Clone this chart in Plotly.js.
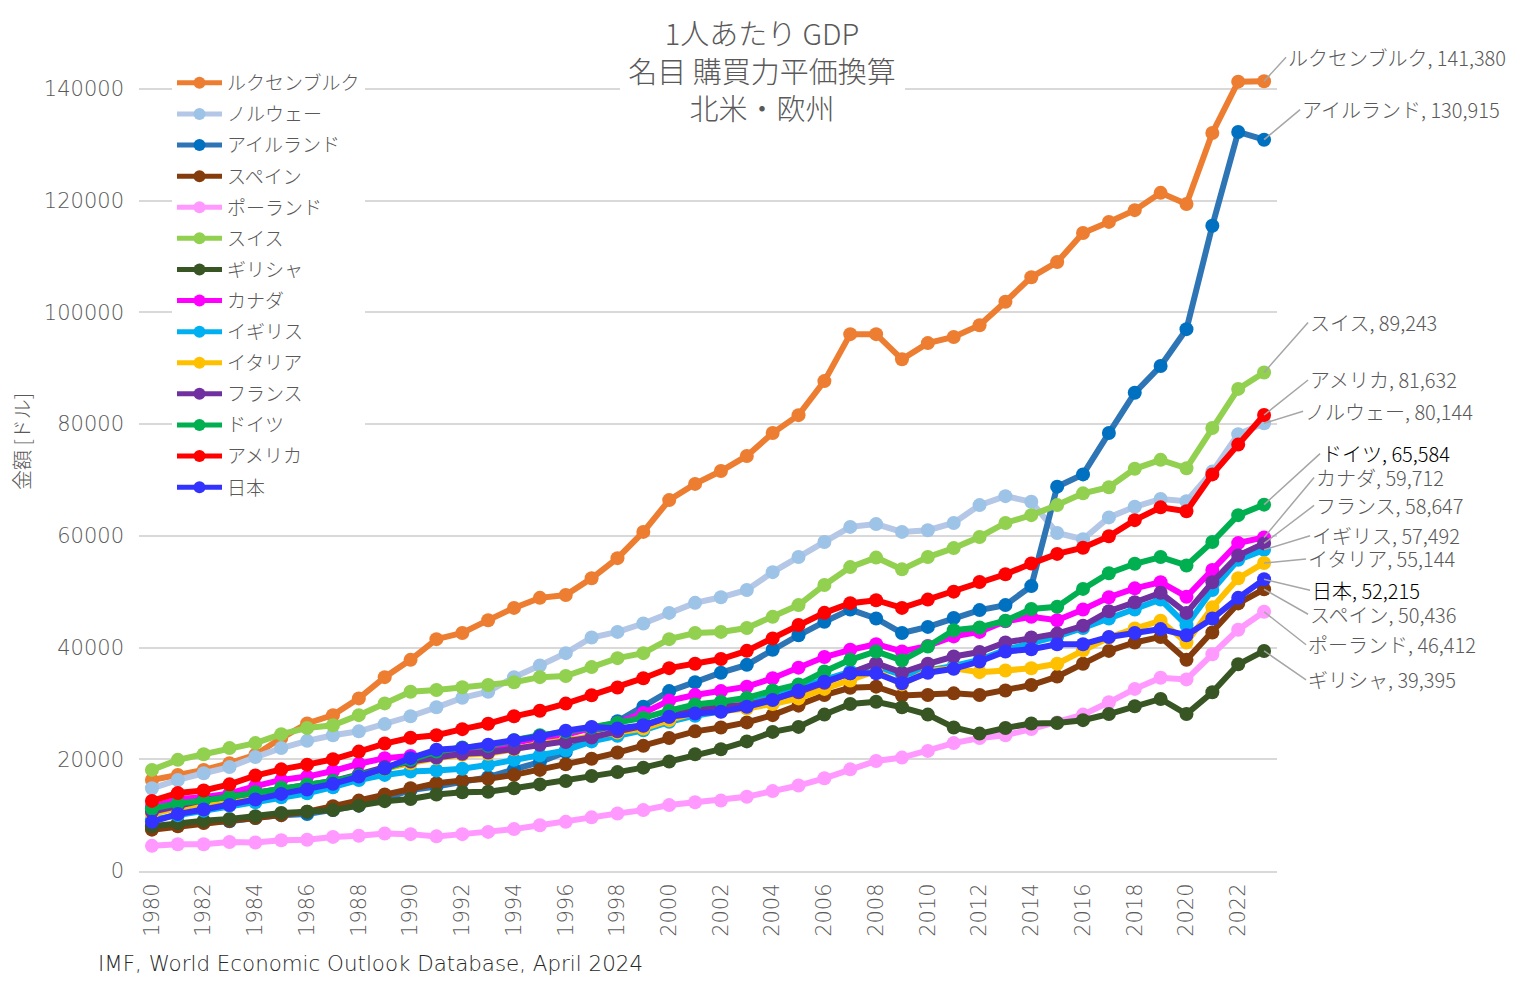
<!DOCTYPE html>
<html>
<head>
<meta charset="utf-8">
<script src="https://cdn.plot.ly/plotly-3.0.1.min.js"></script>
<style>html,body{margin:0;padding:0;background:#fff;}#chart{width:1524px;height:996px;}</style>
</head>
<body>
<div id="chart"></div>
<script>
const years = Array.from({length: 44}, (_, i) => 1980 + i);

const luxembourg = [16300,17200,18100,19300,20800,23800,26400,27900,30900,34700,37800,41500,42600,44900,47100,48900,49400,52400,56000,60700,66400,69300,71600,74300,78400,81600,87700,96100,96100,91600,94500,95600,97700,101900,106300,109000,114200,116200,118300,121400,119400,132100,141300,141380];
const norway = [14800,16300,17500,18600,20400,22000,23300,24300,25000,26300,27700,29300,31000,32100,34700,36800,39000,41800,42800,44300,46200,48000,49000,50300,53500,56200,58900,61600,62100,60700,61000,62300,65500,67100,66100,60500,59400,63300,65200,66600,66200,71500,78200,80144];
const ireland = [7600,8300,8700,8900,9500,10000,10200,10900,11700,12900,14500,15100,16000,16800,18200,19500,21300,24500,26800,29400,32200,33800,35500,36900,39600,42200,44600,46800,45200,42600,43700,45300,46700,47600,51000,68800,71000,78400,85600,90400,97000,115500,132300,130915];
const spain = [7400,8000,8600,9000,9500,10000,10600,11600,12600,13700,14800,15700,16200,16500,17200,18100,19100,20100,21200,22400,23800,25000,25700,26600,27900,29600,31500,32800,33000,31400,31500,31800,31500,32300,33300,34800,37100,39400,40900,41900,37800,42700,47900,50436];
const poland = [4500,4800,4800,5200,5100,5500,5600,6100,6300,6700,6600,6200,6600,7000,7500,8200,8800,9600,10300,10900,11800,12300,12600,13300,14300,15300,16600,18200,19700,20300,21500,22900,23800,24300,25400,26600,28000,30200,32600,34600,34300,38800,43200,46412];
const switzerland = [18100,19900,20900,22000,22900,24500,25600,26100,27900,30000,32100,32400,32900,33300,33800,34700,34900,36500,38100,39000,41500,42600,42800,43500,45500,47600,51200,54400,56100,54000,56200,57800,59800,62300,63700,65500,67600,68700,72000,73600,72100,79300,86300,89243];
const greece = [8000,8600,9000,9300,9800,10400,10600,10900,11700,12500,12900,13700,14100,14200,14800,15500,16100,17000,17700,18500,19600,20900,21800,23200,24900,25800,28000,29900,30300,29300,28000,25700,24600,25600,26400,26500,27000,28100,29500,30800,28100,32000,37000,39395];
const canada = [11500,12900,13200,13900,15200,16300,16900,17900,19200,20200,20600,20600,21000,21800,23000,23800,24400,25600,26500,28300,30500,31500,32200,33000,34500,36400,38300,39600,40600,39300,40300,42000,42800,44700,45500,44900,46800,49000,50600,51700,49100,53900,58700,59712];
const uk = [9200,10000,10800,11700,12300,13200,13900,15000,16300,17200,17800,18000,18300,19000,19900,20700,21600,23200,24200,25200,26700,27800,28600,29900,31300,32800,34300,35700,36600,35100,35900,36700,37800,39600,40800,42000,43500,45200,46800,48600,44000,50300,55700,57492];
const italy = [10200,11300,12000,12600,13400,14200,14900,15800,17000,18300,19300,20200,20800,21000,21800,22800,23400,24100,24800,25500,27000,28300,28600,29100,29900,30900,32600,34100,35800,33400,35800,36300,35600,35900,36300,37100,39500,41800,43400,44800,40900,47200,52400,55144];
const france = [10600,11700,12700,13300,14000,14700,15300,16100,17300,18600,19600,20300,21000,21200,21900,22600,23100,23900,25000,26000,27600,29000,29600,29700,30800,32000,33700,35400,37200,35500,37100,38400,39200,40900,41800,42500,43900,46500,48100,49800,46200,51700,56500,58647];
const germany = [11200,12100,12600,13300,14100,14900,15500,16100,17100,18300,19900,21400,22100,22400,23400,24300,24900,25700,26500,27400,28700,29800,30300,31000,32300,33400,35700,37800,39300,37700,40200,43100,43600,44800,46900,47300,50500,53300,55000,56200,54700,58900,63700,65584];
const usa = [12553,13949,14405,15514,17086,18200,19034,20001,21376,22814,23848,24303,25393,26365,27695,28691,29968,31460,32854,34514,36312,37101,37946,39406,41642,44034,46216,47944,48471,47102,48586,50009,51734,53123,55033,56763,57867,59915,62805,65095,64402,70996,76330,81632];
const japan = [8800,10200,11000,11800,12800,13800,14600,15600,16900,18400,20200,21700,22000,22600,23400,24100,25100,25800,25500,26100,27600,28200,28500,29400,30600,32300,33900,35400,35400,33600,35500,36200,37500,39300,39700,40600,40600,41900,42600,43300,42200,45200,48900,52215];

const seriesNames = ['ルクセンブルク','ノルウェー','アイルランド','スペイン','ポーランド','スイス','ギリシャ','カナダ','イギリス','イタリア','フランス','ドイツ','アメリカ','日本'];
const seriesValues = [luxembourg, norway, ireland, spain, poland, switzerland, greece, canada, uk, italy, france, germany, usa, japan];
const lineColors = ['#ED7D31','#B4C7E7','#2E75B6','#843C0C','#FF99FF','#92D050','#375623','#FF00FF','#00B0F0','#FFC000','#7030A0','#00B050','#FF0000','#3333FF'];
const markerColors = ['#ED7D31','#9DC3E6','#0070C0','#843C0C','#FF99FF','#92D050','#375623','#FF00FF','#00B0F0','#FFC000','#7030A0','#00B050','#FF0000','#3333FF'];

const xTickVals = [1980,1982,1984,1986,1988,1990,1992,1994,1996,1998,2000,2002,2004,2006,2008,2010,2012,2014,2016,2018,2020,2022];
const yTickVals = [0,20000,40000,60000,80000,100000,120000,140000];

// label offsets (pixels) for end-of-line data labels
const labelOffsets = {
  'ルクセンブルク':[22,-24], 'アイルランド':[36,-30], 'スイス':[44,-50], 'アメリカ':[44,-35],
  'ノルウェー':[39,-12], 'ドイツ':[56,-51], 'カナダ':[50,-60], 'フランス':[50,-38],
  'イギリス':[46,-14], 'イタリア':[42,-4], '日本':[46,11], 'スペイン':[44,25],
  'ポーランド':[42,33], 'ギリシャ':[42,29]
};
const darkLabels = ['ドイツ','日本'];

const JP = '"Noto Sans CJK JP", "Noto Sans", sans-serif';
const NUM = '"DejaVu Sans", "Noto Sans", sans-serif';
const GRAY = '#595959';

const traces = seriesNames.map((name, i) => ({
  type: 'scatter', mode: 'lines+markers', name: name,
  legendgroup: 'g' + i,
  x: years, y: seriesValues[i],
  line: {color: lineColors[i], width: 6},
  marker: {color: markerColors[i], size: 14},
  cliponaxis: false
}));

const annotations = seriesNames.map((name, i) => {
  const vals = seriesValues[i];
  const last = vals[vals.length - 1];
  const off = labelOffsets[name];
  return {
    x: years[years.length - 1], y: last, xref: 'x', yref: 'y',
    text: name + ', ' + last.toLocaleString('en-US'),
    showarrow: true, arrowhead: 0, arrowwidth: 1.5, arrowcolor: '#A6A6A6',
    ax: off[0], ay: off[1], xanchor: 'left', yanchor: 'middle', standoff: 0,
    font: {family: JP, size: 20, weight: 300, color: darkLabels.includes(name) ? '#000000' : GRAY}
  };
});

annotations.push({
  xref: 'paper', yref: 'paper', x: (22 - 139) / 1138, y: (871 - 442) / 810,
  xanchor: 'center', yanchor: 'middle',
  text: '金額 [ドル]', textangle: -90, showarrow: false,
  font: {family: JP, size: 20, weight: 300, color: GRAY}
});
annotations.push({
  xref: 'paper', yref: 'paper', x: (96 - 139) / 1138, y: (871 - 964) / 810,
  xanchor: 'left', yanchor: 'middle',
  text: 'IMF, World Economic Outlook Database, April 2024', showarrow: false,
  font: {family: NUM, size: 21.4, weight: 300, color: '#262626'}
});

const layout = {
  width: 1524, height: 996,
  margin: {l: 139, r: 247, t: 61, b: 125},
  paper_bgcolor: '#ffffff', plot_bgcolor: '#ffffff',
  title: {
    text: '1人あたり GDP<br>名目 購買力平価換算<br>北米・欧州',
    x: 0.5, xanchor: 'center', y: 1 - 45 / 996, yanchor: 'top',
    font: {family: JP, size: 29, weight: 300, color: GRAY}
  },
  xaxis: {
    range: [1979.5, 2023.5], tickmode: 'array', tickvals: xTickVals,
    tickangle: -90, showgrid: false, zeroline: false,
    showline: true, linecolor: '#D9D9D9', linewidth: 2,
    ticks: '', ticklabelstandoff: 2,
    tickfont: {family: NUM, size: 21, weight: 200, color: GRAY}
  },
  yaxis: {
    range: [0, 145000], tickmode: 'array', tickvals: yTickVals, tickformat: 'd',
    showgrid: true, gridcolor: '#D9D9D9', gridwidth: 2,
    zeroline: false, showline: false, ticks: '', ticklabelstandoff: 14,
    tickfont: {family: NUM, size: 21, weight: 200, color: GRAY}
  },
  legend: {
    x: (172 - 139) / 1138, y: (871 - 64) / 810, xanchor: 'left', yanchor: 'top',
    bgcolor: '#ffffff', borderwidth: 0, itemwidth: 45, itemsizing: 'constant',
    font: {family: JP, size: 19, weight: 300, color: GRAY},
    traceorder: 'grouped', tracegroupgap: 3.4
  },
  shapes: [{
    type: 'rect', xref: 'paper', yref: 'paper', layer: 'above',
    x0: (620 - 139) / 1138, x1: (905 - 139) / 1138,
    y0: (871 - 96) / 810, y1: (871 - 82) / 810,
    fillcolor: '#ffffff', line: {width: 0}
  }],
  annotations: annotations,
  showlegend: true,
  hovermode: false
};

Plotly.newPlot('chart', traces, layout, {displayModeBar: false, staticPlot: true});
</script>
</body>
</html>
